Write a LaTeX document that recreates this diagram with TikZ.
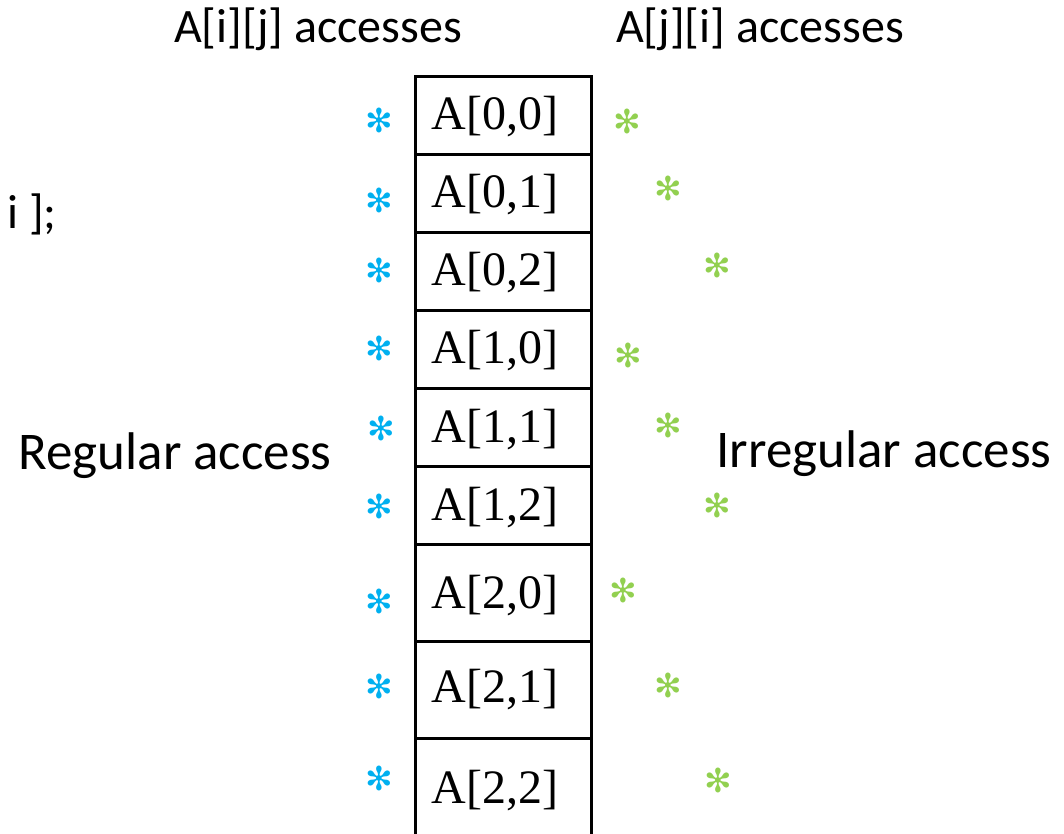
\documentclass[tikz,border=0pt]{standalone}
\usepackage{fontspec}
\setmainfont{Liberation Serif}
\newfontfamily\calfont{Carlito}
\newfontfamily\symfont{DejaVu Sans}
\definecolor{bluestar}{HTML}{00B0F0}
\definecolor{greenstar}{HTML}{92D050}
\tikzset{
  cellbox/.style={draw=black, line width=2.6pt, minimum width=176pt, inner sep=0pt, anchor=north west},
  celltext/.style={anchor=base, inner sep=0pt, font=\fontsize{48}{56}\selectfont},
  caltext/.style={anchor=base, inner sep=0pt, font=\calfont\fontsize{48}{58}\selectfont},
  bigcal/.style={anchor=base, inner sep=0pt, font=\calfont\fontsize{53}{63}\selectfont},
  bstar/.style={inner sep=0pt, text=bluestar, font=\symfont\bfseries\fontsize{33}{36}\selectfont},
  gstar/.style={inner sep=0pt, text=greenstar, font=\symfont\bfseries\fontsize{33}{36}\selectfont}
}
\begin{document}
\begin{tikzpicture}[x=1pt,y=-1pt]
\clip (0,0) rectangle (1064,833);
\fill[white] (0,0) rectangle (1064,833);
% cells
\node[cellbox, minimum height=78pt] (c1) at (414,75) {};
\node[cellbox, minimum height=78pt] (c2) at (414,153) {};
\node[cellbox, minimum height=78pt] (c3) at (414,231) {};
\node[cellbox, minimum height=78pt] (c4) at (414,309) {};
\node[cellbox, minimum height=78pt] (c5) at (414,387) {};
\node[cellbox, minimum height=78pt] (c6) at (414,465) {};
\node[cellbox, minimum height=97pt] (c7) at (414,543) {};
\node[cellbox, minimum height=97pt] (c8) at (414,640) {};
\node[cellbox, minimum height=110pt] (c9) at (414,737) {};
% cell texts
\node[celltext] (t1) at (495,129) {A[0,0]};
\node[celltext] (t2) at (495,207) {A[0,1]};
\node[celltext] (t3) at (495,285) {A[0,2]};
\node[celltext] (t4) at (495,363) {A[1,0]};
\node[celltext] (t5) at (495,442) {A[1,1]};
\node[celltext] (t6) at (495,520) {A[1,2]};
\node[celltext] (t7) at (495,608) {A[2,0]};
\node[celltext] (t8) at (495,702) {A[2,1]};
\node[celltext] (t9) at (495,803) {A[2,2]};
% headings and labels
\node[caltext] (h1) at (318,42) {A[i][j] accesses};
\node[caltext] (h2) at (760,42) {A[j][i] accesses};
\node[bigcal] (reg) at (175,469) {Regular access};
\node[bigcal] (irr) at (884,467) {Irregular access};
\node[caltext, anchor=base west] (code) at (7,228) {i ];};
% blue stars
\node[bstar] (b1) at (379,120) {✻};
\node[bstar] (b2) at (379,200) {✻};
\node[bstar] (b3) at (379,270) {✻};
\node[bstar] (b4) at (379,348) {✻};
\node[bstar] (b5) at (381,428) {✻};
\node[bstar] (b6) at (379,506) {✻};
\node[bstar] (b7) at (379,601) {✻};
\node[bstar] (b8) at (379,686) {✻};
\node[bstar] (b9) at (379,778) {✻};
% green stars
\node[gstar] (g1) at (627,121) {✻};
\node[gstar] (g2) at (668,188) {✻};
\node[gstar] (g3) at (717,265) {✻};
\node[gstar] (g4) at (628,355) {✻};
\node[gstar] (g5) at (668,425) {✻};
\node[gstar] (g6) at (717,505) {✻};
\node[gstar] (g7) at (623,590) {✻};
\node[gstar] (g8) at (668,685) {✻};
\node[gstar] (g9) at (718,780) {✻};
\end{tikzpicture}
\end{document}
